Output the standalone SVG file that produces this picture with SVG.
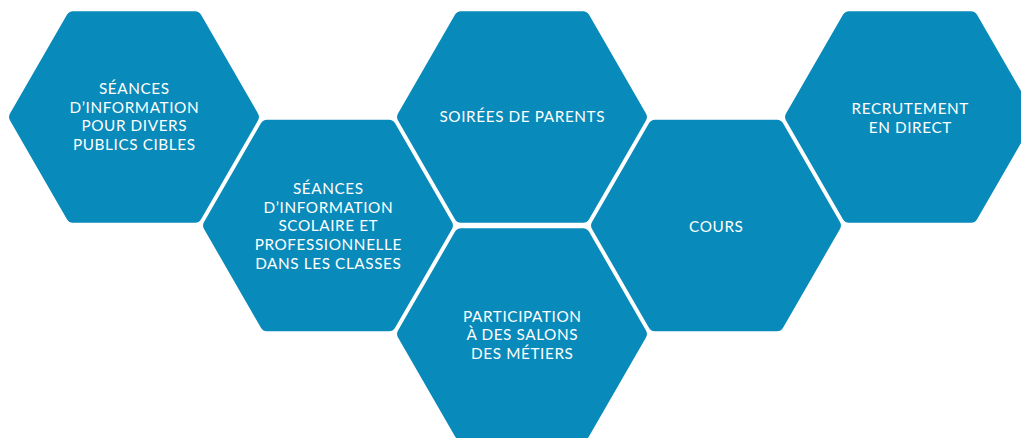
<svg xmlns="http://www.w3.org/2000/svg" xmlns:xlink="http://www.w3.org/1999/xlink" width="1021" height="438" viewBox="0 0 1021 438">
  <style>
    .hex { fill: #088aba; stroke: #088aba; stroke-width: 14; stroke-linejoin: round; }
    .lbl { font-family: Lato, "Open Sans", "Liberation Sans", sans-serif; font-size: 15.3px; letter-spacing: 0.6px; fill: #ffffff; text-anchor: middle; }
  </style>
  <defs>
    <polygon id="hexshape" points="-117.9,0 -61,-98.8 61,-98.8 117.9,0 61,98.8 -61,98.8"/>
  </defs>
  <rect width="1021" height="438" fill="#ffffff"/>
  <g id="connectors"></g>
  <g id="node-seances-publics">
    <use xlink:href="#hexshape" href="#hexshape" class="hex" x="134" y="117"/>
    <text class="lbl" x="134.3" y="94">SÉANCES</text>
    <text class="lbl" x="134.3" y="112.6">D’INFORMATION</text>
    <text class="lbl" x="134.3" y="131.2">POUR DIVERS</text>
    <text class="lbl" x="134.3" y="149.8">PUBLICS CIBLES</text>
  </g>
  <g id="node-seances-classes">
    <use xlink:href="#hexshape" href="#hexshape" class="hex" x="328" y="225.5"/>
    <text class="lbl" x="328.3" y="194">SÉANCES</text>
    <text class="lbl" x="328.3" y="212.7">D’INFORMATION</text>
    <text class="lbl" x="328.3" y="231.4">SCOLAIRE ET</text>
    <text class="lbl" x="328.3" y="250.1">PROFESSIONNELLE</text>
    <text class="lbl" x="328.3" y="268.8">DANS LES CLASSES</text>
  </g>
  <g id="node-soirees">
    <use xlink:href="#hexshape" href="#hexshape" class="hex" x="522" y="117"/>
    <text class="lbl" x="522.3" y="122">SOIRÉES DE PARENTS</text>
  </g>
  <g id="node-salons">
    <use xlink:href="#hexshape" href="#hexshape" class="hex" x="522" y="334"/>
    <text class="lbl" x="522.3" y="321.7">PARTICIPATION</text>
    <text class="lbl" x="522.3" y="340.4">À DES SALONS</text>
    <text class="lbl" x="522.3" y="359.1">DES MÉTIERS</text>
  </g>
  <g id="node-cours">
    <use xlink:href="#hexshape" href="#hexshape" class="hex" x="716" y="225.5"/>
    <text class="lbl" x="716.3" y="232">COURS</text>
  </g>
  <g id="node-recrutement">
    <use xlink:href="#hexshape" href="#hexshape" class="hex" x="910" y="117"/>
    <text class="lbl" x="910.3" y="114">RECRUTEMENT</text>
    <text class="lbl" x="910.3" y="132.7">EN DIRECT</text>
  </g>
</svg>
